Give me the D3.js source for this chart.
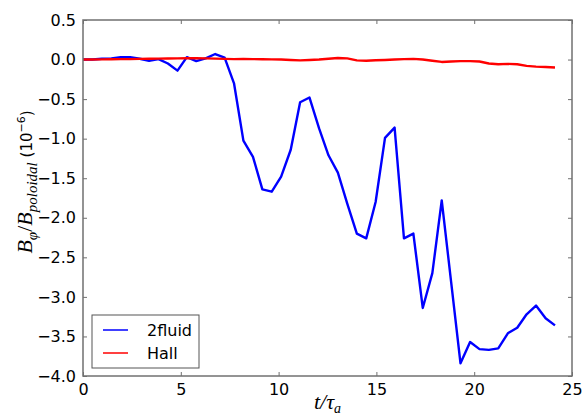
<!DOCTYPE html>
<html>
<head>
<meta charset="utf-8">
<script src="https://cdn.jsdelivr.net/npm/d3@7"></script>
<style>
  html, body { margin: 0; padding: 0; background: #fff; }
  svg { display: block; }
</style>
</head>
<body>
<svg id="chart" width="586" height="416"></svg>
<script>
// Sample times t/tau_a
const times = [0, 0.48, 0.97, 1.45, 1.93, 2.41, 2.90, 3.38, 3.86, 4.34,
  4.83, 5.31, 5.79, 6.27, 6.76, 7.24, 7.72, 8.20, 8.69, 9.17,
  9.65, 10.13, 10.62, 11.10, 11.58, 12.07, 12.55, 13.03, 13.51, 14.00,
  14.48, 14.96, 15.44, 15.93, 16.41, 16.89, 17.37, 17.86, 18.34, 18.82,
  19.30, 19.79, 20.27, 20.75, 21.23, 21.72, 22.20, 22.68, 23.16, 23.65, 24.13];

// B_phi / B_poloidal (units of 1e-6), two-fluid run
const twoFluid = [0.0, 0.0, 0.01, 0.015, 0.03, 0.03, 0.01, -0.015, 0.005, -0.05,
  -0.14, 0.03, -0.02, 0.015, 0.07, 0.025, -0.30, -1.025, -1.23, -1.64,
  -1.67, -1.48, -1.14, -0.54, -0.48, -0.87, -1.21, -1.43, -1.82, -2.20,
  -2.26, -1.80, -0.99, -0.86, -2.26, -2.20, -3.14, -2.70, -1.78, -2.81,
  -3.84, -3.57, -3.66, -3.67, -3.65, -3.46, -3.39, -3.22, -3.11, -3.27, -3.36];

// Hall-MHD run
const hall = [0.0, 0.001, 0.002, 0.003, 0.005, 0.006, 0.008, 0.010, 0.012, 0.013,
  0.015, 0.016, 0.017, 0.015, 0.012, 0.008, 0.005, 0.008, 0.006, 0.004,
  0.002, 0.0, -0.005, -0.010, -0.005, 0.0, 0.010, 0.020, 0.015, -0.010,
  -0.015, -0.008, -0.005, 0.0, 0.005, 0.008, 0.0, -0.015, -0.030, -0.025,
  -0.020, -0.020, -0.025, -0.050, -0.060, -0.055, -0.060, -0.080, -0.090, -0.095, -0.100];

const xTicks = [0, 5, 10, 15, 20, 25];
const yTicks = [0.5, 0.0, -0.5, -1.0, -1.5, -2.0, -2.5, -3.0, -3.5, -4.0];

const seriesNames = ["2fluid", "Hall"];
const seriesColors = ["#0000ff", "#ff0000"];

const L = 83, R = 572, T = 20, B = 376;
const svg = d3.select("#chart");

const x = d3.scaleLinear().domain([0, 25]).range([L, R]);
const y = d3.scaleLinear().domain([-4.0, 0.5]).range([B, T]);

const fmtY = v => d3.format(".1f")(v).replace("-", "\u2212");
const spineColor = "#707070";
const tickFont = "'DejaVu Sans', sans-serif";

// Axes: ticks point inward on all four sides
const gB = svg.append("g").attr("transform", `translate(0,${B})`)
  .call(d3.axisBottom(x).tickValues(xTicks).tickSizeInner(-4).tickSizeOuter(0).tickPadding(8).tickFormat(d3.format("d")));
const gT = svg.append("g").attr("transform", `translate(0,${T})`)
  .call(d3.axisTop(x).tickValues(xTicks).tickSizeInner(-4).tickSizeOuter(0).tickFormat(""));
const gL = svg.append("g").attr("transform", `translate(${L},0)`)
  .call(d3.axisLeft(y).tickValues(yTicks).tickSizeInner(-4).tickSizeOuter(0).tickPadding(7).tickFormat(fmtY));
const gR = svg.append("g").attr("transform", `translate(${R},0)`)
  .call(d3.axisRight(y).tickValues(yTicks).tickSizeInner(-4).tickSizeOuter(0).tickFormat(""));

[gB, gT, gL, gR].forEach(g => {
  g.select(".domain").remove();
  g.selectAll(".tick line").attr("stroke", spineColor).attr("stroke-width", 1);
  g.selectAll(".tick text").attr("fill", "#000").style("font-family", tickFont).style("font-size", "16px");
});

// Lines
const line = d3.line().x((d, i) => x(times[i])).y(d => y(d));
[twoFluid, hall].forEach((vals, k) => {
  svg.append("path")
    .datum(vals)
    .attr("fill", "none")
    .attr("stroke", seriesColors[k])
    .attr("stroke-width", 2.4)
    .attr("stroke-linejoin", "round")
    .attr("d", line);
});

// Frame
svg.append("rect")
  .attr("x", L).attr("y", T).attr("width", R - L).attr("height", B - T)
  .attr("fill", "none").attr("stroke", spineColor).attr("stroke-width", 1.5);

// Legend
const lg = svg.append("g");
lg.append("rect").attr("x", 92).attr("y", 315).attr("width", 107).attr("height", 53)
  .attr("fill", "#fff").attr("stroke", "#555").attr("stroke-width", 1);
seriesNames.forEach((name, k) => {
  const yy = 330 + k * 23;
  lg.append("line").attr("x1", 103).attr("x2", 128).attr("y1", yy).attr("y2", yy)
    .attr("stroke", seriesColors[k]).attr("stroke-width", 1.5);
  lg.append("text").attr("x", 147).attr("y", yy + 6).text(name)
    .style("font-family", tickFont).style("font-size", "16px");
});

// X label
const xl = svg.append("text").attr("x", (L + R) / 2).attr("y", 409)
  .attr("text-anchor", "middle")
  .style("font-family", "'Liberation Serif', serif").style("font-size", "22px").style("font-style", "italic");
xl.append("tspan").text("t/\u03C4");
xl.append("tspan").attr("dy", 4).style("font-size", "14px").text("a");

// Y label
const yl = svg.append("text")
  .attr("transform", `translate(32,182) rotate(-90)`)
  .attr("text-anchor", "middle")
  .style("font-family", "'Liberation Serif', serif").style("font-size", "22px");
yl.append("tspan").style("font-style", "italic").text("B");
yl.append("tspan").attr("dy", 5).style("font-size", "15px").style("font-style", "italic").text("\u03C6");
yl.append("tspan").attr("dy", -5).text("/");
yl.append("tspan").style("font-style", "italic").text("B");
yl.append("tspan").attr("dy", 5).style("font-size", "15px").style("font-style", "italic").text("poloidal");
yl.append("tspan").attr("dy", -5).style("font-family", tickFont).style("font-size", "15px").text("\u00A0(10");
yl.append("tspan").attr("dy", -7).style("font-family", tickFont).style("font-size", "11px").text("\u22126");
yl.append("tspan").attr("dy", 7).style("font-family", tickFont).style("font-size", "15px").text(")");
</script>
</body>
</html>
